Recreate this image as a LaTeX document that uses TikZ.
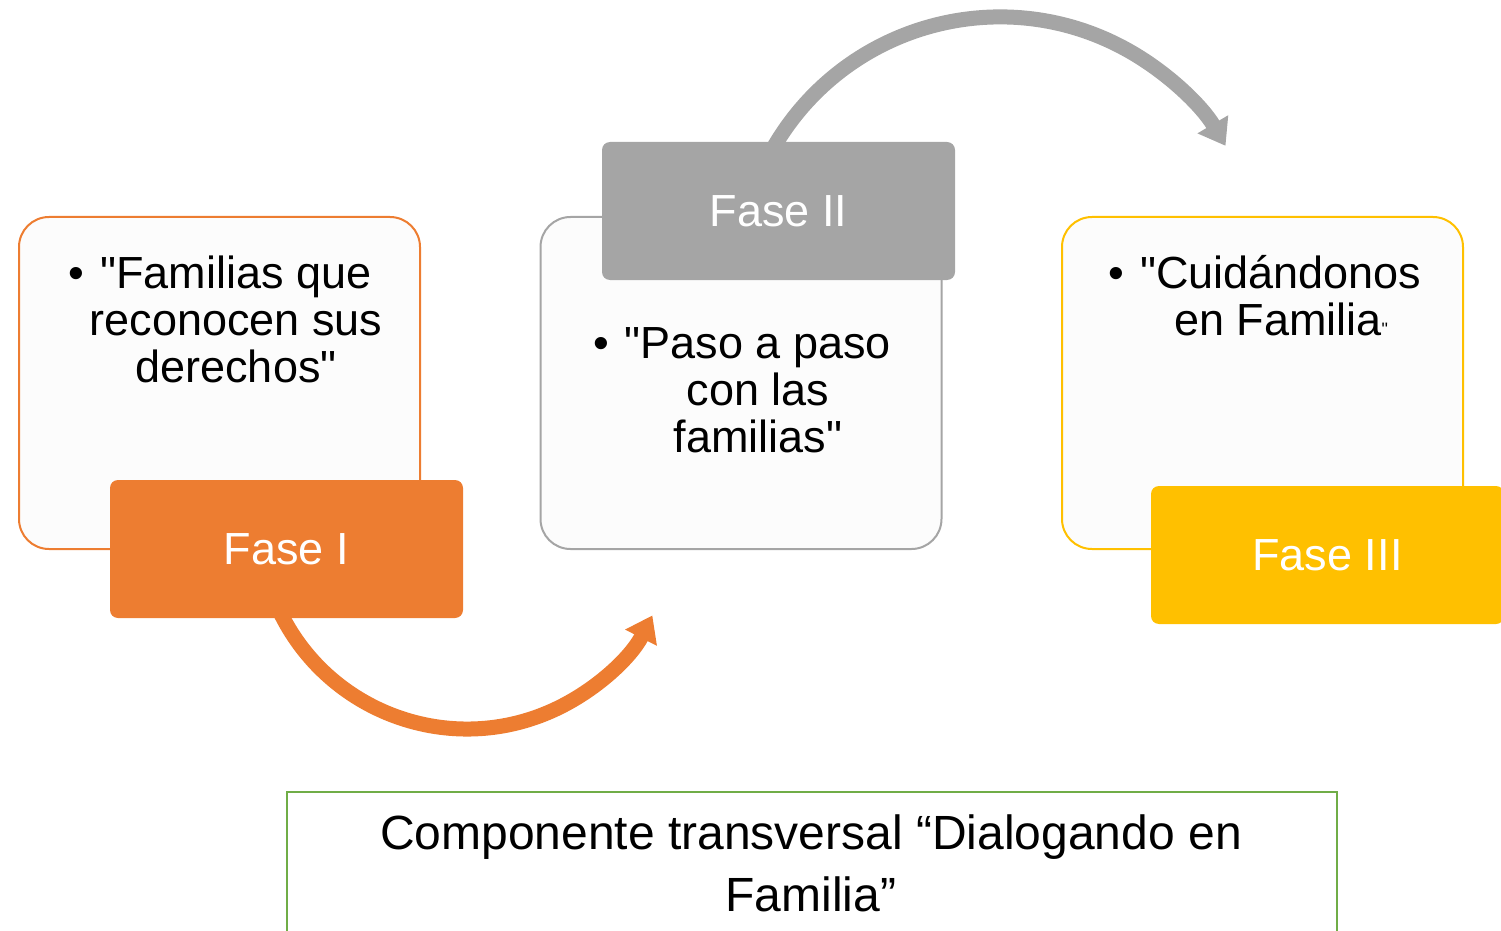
\documentclass[tikz,border=0pt]{standalone}
\usepackage{fontspec}
\setmainfont{Liberation Sans}
\newfontfamily\lsans{Liberation Sans}
\usetikzlibrary{arrows.meta}
\definecolor{phOrange}{HTML}{ED7D31}
\definecolor{phGray}{HTML}{A5A5A5}
\definecolor{phYellow}{HTML}{FFC000}
\definecolor{phGreen}{HTML}{70AD47}
\definecolor{boxFill}{HTML}{FCFCFC}
\begin{document}
\begin{tikzpicture}[x=0.5pt,y=-0.5pt,
  contentbox/.style={draw, line width=1pt, fill=boxFill, rounded corners=15pt,
    minimum width=200.5pt, minimum height=166pt, inner sep=0pt},
  phasebox/.style={rounded corners=4pt, minimum width=176.5pt, minimum height=69pt,
    inner sep=0pt, text=white, font=\lsans\fontsize{22.5}{27}\selectfont},
  bodytext/.style={anchor=north, align=center, inner sep=0pt,
    font=\lsans\fontsize{22.5}{23.5}\selectfont},
  cyclearrow/.style={line width=7.5pt, -{Triangle[length=12.5pt,width=17pt]}}]
\useasboundingbox (0,0) rectangle (1501,931);
\clip (0,0) rectangle (1501,931);

% content boxes
\node[contentbox, draw=phOrange] (b1) at (219.5,383) {};
\node[contentbox, draw=phGray] (b2) at (741,383) {};
\node[contentbox, draw=phYellow] (b3) at (1262.5,383) {};

\node[bodytext] (t1) at (236,255.1) {\strut\llap{\textbullet\hspace{0.35em}}"Familias que\\reconocen sus\\derechos"};
\node[bodytext] (t2) at (758,325.1) {\strut\llap{\textbullet\hspace{0.35em}}"Paso a paso\\con las\\familias"};
\node[bodytext] (t3) at (1281,255.1) {\strut\llap{\textbullet\hspace{0.35em}}"Cuidándonos\\en Familia{\fontsize{9}{9}\selectfont "}};

% cycle arrows
\coordinate (oa) at (278.5,608.9);
\draw[cyclearrow, phOrange] (oa) arc[start angle=205, end angle=333, radius=104pt];
\coordinate (ga) at (773.4,147.8);
\draw[cyclearrow, phGray] (ga) arc[start angle=150, end angle=30.5, radius=130.85pt];

% phase boxes
\node[phasebox, fill=phOrange] (f1) at (286.5,549) {Fase I};
\node[phasebox, fill=phGray] (f2) at (778.5,211) {Fase II};
\node[phasebox, fill=phYellow] (f3) at (1327.5,555) {Fase III};

% transversal component
\node[draw=phGreen, line width=1pt, minimum width=525pt, minimum height=84pt, inner sep=0pt] (comp) at (812,876) {};
\node[anchor=north, align=center, inner sep=0pt, font=\lsans\fontsize{24}{31}\selectfont] (ct) at (811,805.6)
  {\strut Componente transversal “Dialogando en\\Familia”};
\end{tikzpicture}
\end{document}
